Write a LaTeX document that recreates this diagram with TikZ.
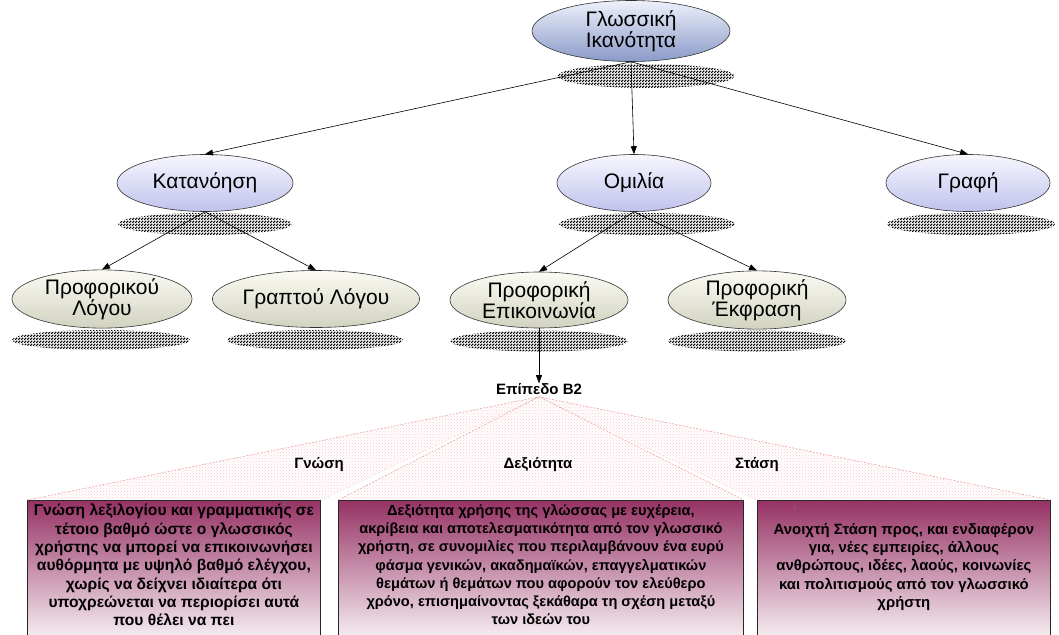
\documentclass[tikz,border=0pt]{standalone}
\usepackage{fontspec}
\setmainfont{Liberation Sans}
\usetikzlibrary{shapes.geometric,arrows.meta,patterns}

\definecolor{rootTop}{RGB}{238,241,251}
\definecolor{rootBot}{RGB}{138,154,200}
\definecolor{midTop}{RGB}{247,247,255}
\definecolor{midBot}{RGB}{192,194,236}
\definecolor{leafTop}{RGB}{251,251,244}
\definecolor{leafBot}{RGB}{210,210,192}
\definecolor{boxTop}{RGB}{150,50,100}
\definecolor{fanEdge}{RGB}{236,150,150}
\definecolor{fanDot}{RGB}{246,200,205}

% dense checker used for the bubble shadows
\pgfdeclarepatternformonly{checker}{\pgfqpoint{0pt}{0pt}}{\pgfqpoint{3pt}{3pt}}{\pgfqpoint{3pt}{3pt}}{%
  \pgfpathrectangle{\pgfqpoint{0pt}{0pt}}{\pgfqpoint{1.8pt}{1.8pt}}%
  \pgfpathrectangle{\pgfqpoint{1.5pt}{1.5pt}}{\pgfqpoint{1.5pt}{1.5pt}}%
  \pgfusepath{fill}}

\tikzset{
  bubble/.style={ellipse, draw=black!80, line width=0.6pt, inner sep=0pt,
    align=center, font=\fontsize{21}{21}\selectfont},
  rootbub/.style={bubble, top color=rootTop, bottom color=rootBot},
  midbub/.style={bubble, top color=midTop, bottom color=midBot},
  leafbub/.style={bubble, top color=leafTop, bottom color=leafBot},
  shade/.style={ellipse, inner sep=0pt, pattern=checker, pattern color=black},
  arr/.style={-{Triangle[length=8pt,width=6pt]}, line width=0.6pt, black},
  lbl/.style={font=\bfseries\fontsize{15}{16}\selectfont, inner sep=0pt},
  card/.style={draw=black!85, line width=0.8pt, top color=boxTop, bottom color=white,
    anchor=north west, inner sep=0pt},
  cardtext/.style={align=center, anchor=north, inner sep=0pt},
  fan/.style={pattern=crosshatch dots, pattern color=fanDot},
  fanline/.style={draw=fanEdge, dashed, dash pattern=on 2pt off 1.5pt, line width=0.5pt},
  tiny/.style={font=\fontsize{7}{7}\selectfont, text=black!55, inner sep=0pt}
}

\begin{document}
\begin{tikzpicture}[x=1pt,y=-1pt]
\useasboundingbox (0,0) rectangle (1059,634);
\clip (0,0) rectangle (1059,634);

% dotted shadows under the bubbles
\node[shade, minimum width=177pt, minimum height=24pt] (rootsh) at (646,76) {};
\node[shade, minimum width=174pt, minimum height=22pt] (katsh) at (205,224) {};
\node[shade, minimum width=176pt, minimum height=22pt] (omish) at (647,224) {};
\node[shade, minimum width=168pt, minimum height=22pt] (grash) at (971,224) {};
\node[shade, minimum width=178pt, minimum height=20pt] (prlsh) at (101,340) {};
\node[shade, minimum width=176pt, minimum height=20pt] (grlsh) at (315,340) {};
\node[shade, minimum width=178pt, minimum height=21pt] (pepsh) at (539,341) {};
\node[shade, minimum width=178pt, minimum height=21pt] (peksh) at (757,341) {};

% bubbles
\node[rootbub, minimum width=148pt, minimum height=61pt] (root) at (631,31)
  {\raisebox{-3pt}{\parbox{140pt}{\centering Γλωσσική\\Ικανότητα}}};
\node[midbub, minimum width=176pt, minimum height=57pt] (kat) at (205,183) {Κατανόηση};
\node[midbub, minimum width=154pt, minimum height=57pt] (omi) at (634,183) {Ομιλία};
\node[midbub, minimum width=164pt, minimum height=57pt] (gra) at (968,183) {Γραφή};
\node[leafbub, minimum width=180pt, minimum height=57pt] (prl) at (102,299)
  {Προφορικού\\Λόγου};
\node[leafbub, minimum width=178pt, minimum height=57pt] (grl) at (316,299)
  {Γραπτού Λόγου};
\node[leafbub, minimum width=178pt, minimum height=56pt] (pep) at (539,300)
  {Προφορική\\Επικοινωνία};
\node[leafbub, minimum width=178pt, minimum height=56pt] (pek) at (757,300)
  {Προφορική\\Έκφραση};

% connectors
\draw[arr] (root.south) -- (kat.north);
\draw[arr] (root.south) -- (omi.north);
\draw[arr] (root.south) -- (gra.north);
\draw[arr] (kat.south) -- (prl.north);
\draw[arr] (kat.south) -- (grl.north);
\draw[arr] (omi.south) -- (pep.north);
\draw[arr] (omi.south) -- (pek.north);

% level label
\node[lbl] (lvl) at (539,389) {Επίπεδο B2};
\draw[arr] (pep.south) -- (lvl.north);

% description cards
\node[card, minimum width=293pt, minimum height=150pt] (bk) at (27,500) {};
\node[card, minimum width=405pt, minimum height=150pt] (bd) at (338,500) {};
\node[card, minimum width=293pt, minimum height=150pt] (bs) at (757,500) {};

% fans from the level label to the cards
\coordinate (apex) at ([yshift=-2pt]lvl.south);
\fill[fan] (apex) -- (bk.north west) -- (bk.north east) -- cycle;
\fill[fan] (apex) -- (bs.north west) -- (bs.north east) -- cycle;
\fill[fan] (apex) -- (bd.north west) -- (bd.north east) -- cycle;
\draw[white, line width=1.6pt] (bk.north east) -- (apex) -- (bs.north west);
\draw[fanline] (bk.north west) -- (apex) -- (bs.north east);
\draw[fanline] (bd.north west) -- (apex) -- (bd.north east);
\draw[fanline, draw opacity=0.5] (bk.north east) -- (apex) -- (bs.north west);

% branch labels
\node[lbl] (gn) at (319,465) {Γνώση};
\node[lbl] (dx) at (538,465) {Δεξιότητα};
\node[lbl] (st) at (757,465) {Στάση};

% card texts
\node[cardtext, font=\bfseries\fontsize{15.6}{18.3}\selectfont] (tk) at ([yshift=-4pt]bk.north)
  {Γνώση λεξιλογίου και γραμματικής σε\\
   τέτοιο βαθμό ώστε ο γλωσσικός\\
   χρήστης να μπορεί να επικοινωνήσει\\
   αυθόρμητα με υψηλό βαθμό ελέγχου,\\
   χωρίς να δείχνει ιδιαίτερα ότι\\
   υποχρεώνεται να περιορίσει αυτά\\
   που θέλει να πει};
\node[cardtext, font=\bfseries\fontsize{14.6}{18.3}\selectfont] (td) at ([yshift=-4pt]bd.north)
  {Δεξιότητα χρήσης της γλώσσας με ευχέρεια,\\
   ακρίβεια και αποτελεσματικότητα από τον γλωσσικό\\
   χρήστη, σε συνομιλίες που περιλαμβάνουν ένα ευρύ\\
   φάσμα γενικών, ακαδημαϊκών, επαγγελματικών\\
   θεμάτων ή θεμάτων που αφορούν τον ελεύθερο\\
   χρόνο, επισημαίνοντας ξεκάθαρα τη σχέση μεταξύ\\
   των ιδεών του};
\node[cardtext, font=\bfseries\fontsize{14.9}{18.3}\selectfont] (ts) at ([yshift=-23pt]bs.north)
  {Ανοιχτή Στάση προς, και ενδιαφέρον\\
   για, νέες εμπειρίες, άλλους\\
   ανθρώπους, ιδέες, λαούς, κοινωνίες\\
   και πολιτισμούς από τον γλωσσικό\\
   χρήστη};

% stray marks inside the cards
\node[tiny] (zk) at (285,504) {z};
\node[tiny] (zs) at (795,508) {z};
\end{tikzpicture}
\end{document}
